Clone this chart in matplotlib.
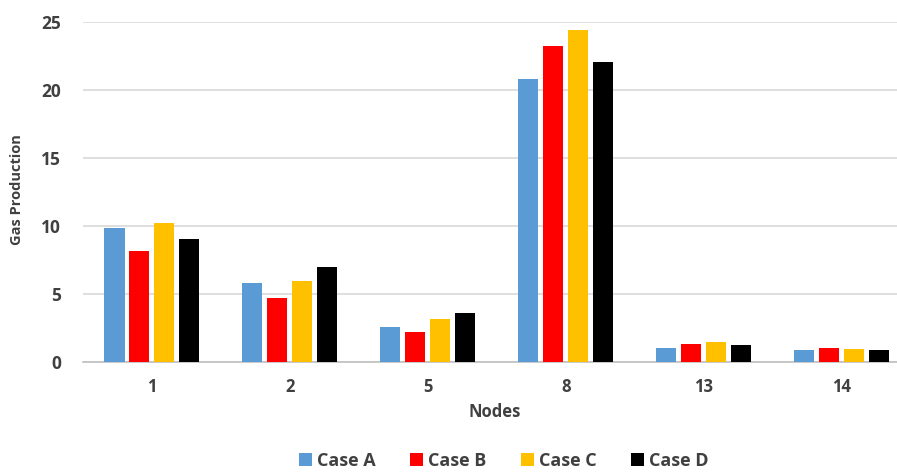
import matplotlib.pyplot as plt
import numpy as np

nodes = ["1", "2", "5", "8", "13", "14"]
case_a = [9.8, 5.75, 2.56, 20.8, 0.99, 0.82]
case_b = [8.15, 4.65, 2.19, 23.2, 1.26, 0.99]
case_c = [10.16, 5.92, 3.1, 24.4, 1.41, 0.9]
case_d = [9.0, 6.97, 3.6, 22.0, 1.21, 0.85]

series = [("Case A", case_a, "#5b9bd5"),
          ("Case B", case_b, "#ff0000"),
          ("Case C", case_c, "#ffc000"),
          ("Case D", case_d, "#000000")]

plt.rcParams['font.family'] = ['Open Sans', 'DejaVu Sans']
txt = "#404040"

fig = plt.figure(figsize=(8.97, 4.73), dpi=100)
ax = fig.add_axes([0.0925, 0.2357, 0.923, 0.7188])

x = np.arange(len(nodes))
step = 0.181
width = 0.145
for i, (name, vals, col) in enumerate(series):
    ax.bar(x + (i - 1.5) * step, vals, width, color=col, label=name, zorder=3)

ax.set_xlim(-0.5, len(nodes) - 0.5)
ax.set_ylim(0, 25)
ax.set_yticks([0, 5, 10, 15, 20, 25])
ax.set_xticks(x)
ax.set_xticklabels(nodes)

ax.yaxis.grid(True, color="#d9d9d9", linewidth=1.2, zorder=0)
for s in ["top", "right", "left"]:
    ax.spines[s].set_visible(False)
ax.spines["bottom"].set_color("#bfbfbf")
ax.spines["bottom"].set_linewidth(1.2)

ax.tick_params(axis="both", length=0, labelcolor=txt)
ax.tick_params(axis="y", pad=16, labelsize=12.5)
ax.tick_params(axis="x", pad=12, labelsize=12)
for lab in ax.get_xticklabels() + ax.get_yticklabels():
    lab.set_fontweight("bold")

fig.text(17 / 897, 1 - 190 / 473, "Gas Production", rotation=90, ha="center", va="center",
         fontsize=10.5, fontweight="bold", color=txt)
fig.text(495 / 897, 1 - 412 / 473, "Nodes", ha="center", va="center",
         fontsize=12, fontweight="bold", color=txt)

fig.legend(loc="center", bbox_to_anchor=(504 / 897, 1 - 461 / 473), ncol=4, frameon=False,
           handlelength=0.7, handleheight=0.7, handletextpad=0.3, columnspacing=1.9,
           prop={"weight": "bold", "size": 13}, labelcolor=txt)

fig.savefig("out.png", dpi=100)
